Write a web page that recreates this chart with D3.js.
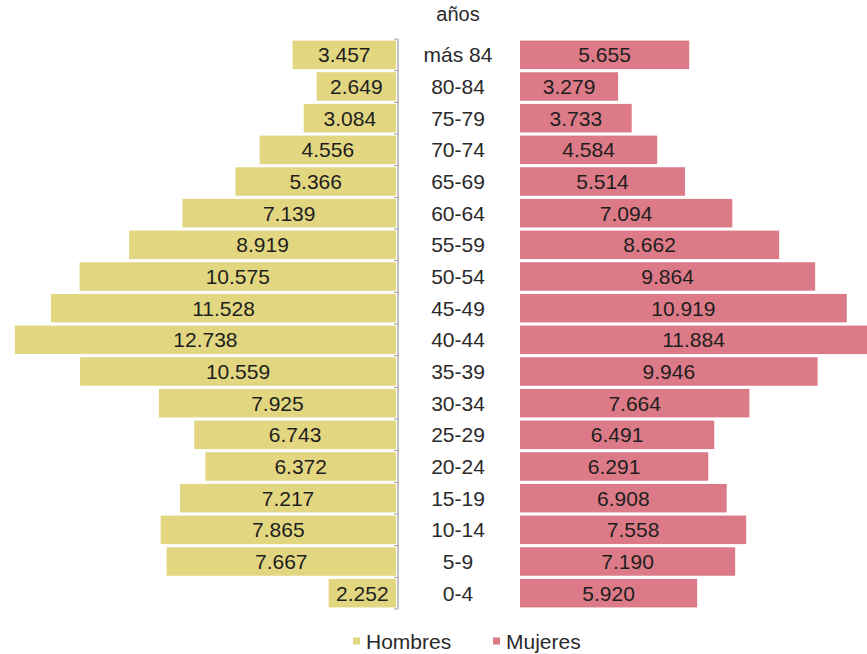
<!DOCTYPE html>
<html>
<head>
<meta charset="utf-8">
<script src="https://cdn.jsdelivr.net/npm/d3@7/dist/d3.min.js"></script>
<style>
  html, body { margin: 0; padding: 0; background: #fff; }
  svg { display: block; font-family: "Liberation Sans", Arial, sans-serif; }
</style>
</head>
<body>
<div id="chart"></div>
<script>
// age groups, top to bottom
var ageGroups = ['más 84', '80-84', '75-79', '70-74', '65-69', '60-64', '55-59', '50-54',
	'45-49', '40-44', '35-39', '30-34', '25-29', '20-24', '15-19', '10-14', '5-9', '0-4'];

var hombres = [3457, 2649, 3084, 4556, 5366, 7139, 8919, 10575,
	11528, 12738, 10559, 7925, 6743, 6372, 7217, 7865, 7667, 2252];

var mujeres = [5655, 3279, 3733, 4584, 5514, 7094, 8662, 9864,
	10919, 11884, 9946, 7664, 6491, 6291, 6908, 7558, 7190, 5920];

var seriesNames = ['Hombres', 'Mujeres'];
var colors = { Hombres: '#e2d681', Mujeres: '#dc7a87' };

var W = 867, H = 654;
var fmt = d3.format(',');
var label = v => fmt(v).replace(/,/g, '.');

var svg = d3.select('#chart').append('svg')
	.attr('width', W)
	.attr('height', H);

var y = d3.scaleBand()
	.domain(ageGroups)
	.range([39, 609])
	.paddingInner(0.1)
	.paddingOuter(0.05);

var xL = d3.scaleLinear().domain([0, 13000]).range([396, 7]);
var xR = d3.scaleLinear().domain([0, 13000]).range([520, 909]);

var rowsL = ageGroups.map((g, i) => ({ g: g, v: hombres[i] }));
var rowsR = ageGroups.map((g, i) => ({ g: g, v: mujeres[i] }));

// left bars (Hombres)
svg.append('g').selectAll('rect')
	.data(rowsL).enter().append('rect')
	.attr('x', d => xL(d.v))
	.attr('y', d => y(d.g))
	.attr('width', d => xL(0) - xL(d.v))
	.attr('height', y.bandwidth())
	.attr('fill', colors.Hombres);

// right bars (Mujeres)
svg.append('g').selectAll('rect')
	.data(rowsR).enter().append('rect')
	.attr('x', xR(0))
	.attr('y', d => y(d.g))
	.attr('width', d => xR(d.v) - xR(0))
	.attr('height', y.bandwidth())
	.attr('fill', colors.Mujeres);

// axis line with ticks between categories
var axisG = svg.append('g').attr('transform', 'translate(398,0)');
axisG.append('line')
	.attr('y1', y.range()[0]).attr('y2', y.range()[1])
	.attr('stroke', '#9a9a9a').attr('stroke-width', 1.2);
var bounds = ageGroups.map(g => y(g) - y.step() * y.paddingInner() / 2);
bounds.push(y.range()[1]);
axisG.selectAll('.tick').data(bounds).enter().append('line')
	.attr('x1', -4).attr('x2', 0)
	.attr('y1', d => d).attr('y2', d => d)
	.attr('stroke', '#9a9a9a');

// value labels
svg.append('g').selectAll('text')
	.data(rowsL).enter().append('text')
	.attr('x', d => (xL(d.v) + xL(0)) / 2)
	.attr('y', d => y(d.g) + y.bandwidth() / 2)
	.attr('dy', '0.36em')
	.attr('text-anchor', 'middle')
	.attr('font-size', 21)
	.attr('fill', '#1e1e1e')
	.text(d => label(d.v));

svg.append('g').selectAll('text')
	.data(rowsR).enter().append('text')
	.attr('x', d => (xR(0) + Math.min(xR(d.v), 867)) / 2)
	.attr('y', d => y(d.g) + y.bandwidth() / 2)
	.attr('dy', '0.36em')
	.attr('text-anchor', 'middle')
	.attr('font-size', 21)
	.attr('fill', '#1e1e1e')
	.text(d => label(d.v));

// category labels
svg.append('g').selectAll('text')
	.data(ageGroups).enter().append('text')
	.attr('x', 458)
	.attr('y', d => y(d) + y.bandwidth() / 2)
	.attr('dy', '0.36em')
	.attr('text-anchor', 'middle')
	.attr('font-size', 21)
	.attr('fill', '#2a2a2a')
	.text(d => d);

svg.append('text')
	.attr('x', 458).attr('y', 14)
	.attr('dy', '0.36em')
	.attr('text-anchor', 'middle')
	.attr('font-size', 20)
	.attr('fill', '#2a2a2a')
	.text('años');

// legend
var legendX = { Hombres: 353, Mujeres: 493 };
var leg = svg.append('g').selectAll('g')
	.data(seriesNames).enter().append('g')
	.attr('transform', d => 'translate(' + legendX[d] + ',641)');
leg.append('rect')
	.attr('x', 0).attr('y', -3.5)
	.attr('width', 7).attr('height', 7)
	.attr('fill', d => colors[d]);
leg.append('text')
	.attr('x', 13).attr('dy', '0.36em')
	.attr('font-size', 21)
	.attr('fill', '#2a2a2a')
	.text(d => d);
</script>
</body>
</html>
